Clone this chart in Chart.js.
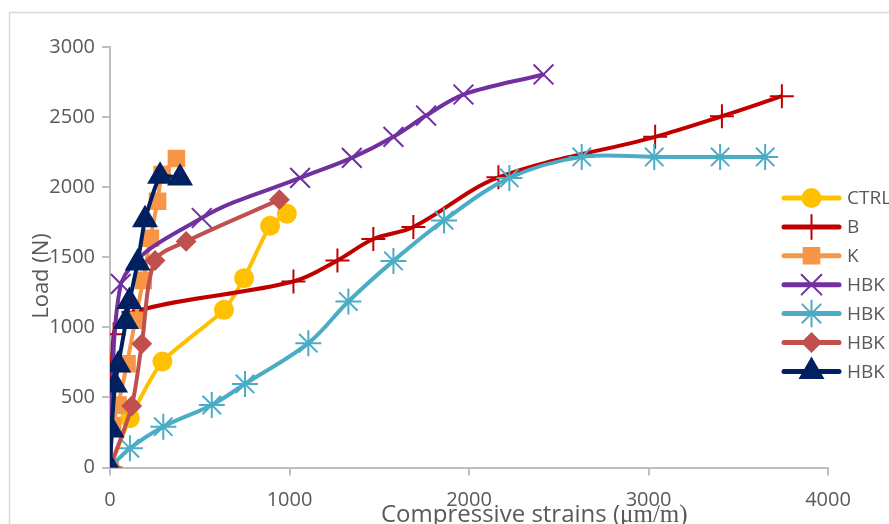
<!DOCTYPE html>
<html><head><meta charset="utf-8">
<script src="https://cdn.jsdelivr.net/npm/chart.js@4.4.0/dist/chart.umd.min.js"></script>
<style>html,body{margin:0;padding:0;background:#fff;overflow:hidden}#wrap{position:relative;width:889px;height:524px}</style>
</head><body><div id="wrap"><canvas id="c" width="889" height="524"></canvas></div>
<script>
// ---- data ----
const seriesNames = ["CTRL", "B", "K", "HBK", "HBK", "HBK", "HBK"];
const xTicks = [0, 1000, 2000, 3000, 4000];
const yTicks = [0, 500, 1000, 1500, 2000, 2500, 3000];
const xTitle = "Compressive strains (";
const xTitleUnit = "\u03bcm/m)";
const yTitle = "Load (N)";

const ctrlStrain = [0, 111, 292, 635, 747, 892, 985];
const ctrlLoad   = [0, 351, 756, 1125, 1351, 1725, 1811];

const bStrain = [0, 20, 130, 1022, 1267, 1467, 1690, 2164, 3037, 3409, 3743];
const bLoad   = [0, 950, 1110, 1327, 1477, 1630, 1716, 2070, 2359, 2506, 2649];

const kStrain = [0, 15, 45, 95, 140, 185, 225, 265, 290, 370];
const kLoad   = [0, 300, 445, 740, 1050, 1335, 1635, 1900, 2090, 2205];

const hbk1Strain = [0, 60, 511, 1059, 1347, 1579, 1761, 1969, 2415];
const hbk1Load   = [0, 1310, 1780, 2066, 2209, 2359, 2511, 2661, 2804];

const hbk2Strain = [0, 111, 297, 567, 752, 1105, 1328, 1579, 1861, 2225, 2628, 3032, 3399, 3650];
const hbk2Load   = [0, 137, 291, 446, 596, 887, 1184, 1474, 1763, 2066, 2216, 2216, 2216, 2216];

const hbk3Strain = [0, 121, 177, 251, 424, 944];
const hbk3Load   = [0, 439, 882, 1477, 1613, 1911];

const hbk4Strain = [0, 9, 28, 46, 89, 108, 154, 195, 279, 390];
const hbk4Load   = [0, 268, 589, 732, 1041, 1184, 1459, 1768, 2077, 2066];

// ---- styling ----
const colors = ["#FFC000", "#C00000", "#F79646", "#7030A0", "#4BACC6", "#C0504D", "#002060"];
const styles = ["circle", "cross", "rect", "crossRot", "star", "rectRot", "triangle"];
const radii  = [9, 12, 11, 14, 13, 9, 13];
const tensions = [0.2, 0.35, 0.2, 0.35, 0.35, 0.3, 0.15];

const xs = [ctrlStrain, bStrain, kStrain, hbk1Strain, hbk2Strain, hbk3Strain, hbk4Strain];
const ys = [ctrlLoad, bLoad, kLoad, hbk1Load, hbk2Load, hbk3Load, hbk4Load];

const pts = (a, b) => a.map((v, i) => ({x: v, y: b[i]}));

const datasets = seriesNames.map((n, i) => ({
  label: n,
  data: pts(xs[i], ys[i]),
  borderColor: colors[i],
  backgroundColor: colors[i],
  pointBackgroundColor: colors[i],
  pointBorderColor: colors[i],
  pointStyle: styles[i],
  pointRadius: radii[i],
  pointHoverRadius: radii[i],
  pointBorderWidth: 2,
  borderWidth: 4,
  tension: tensions[i],
  fill: false,
  order: 6 - i
}));

Chart.defaults.font.family = '"Open Sans", sans-serif';
Chart.defaults.font.size = 20;
Chart.defaults.color = '#595959';

const extras = {
  id: 'extras',
  beforeDraw(chart) {
    const c = chart.ctx;
    c.save();
    c.fillStyle = '#fff';
    c.fillRect(0, 0, chart.width, chart.height);
    c.strokeStyle = '#d9d9d9';
    c.lineWidth = 1.5;
    c.strokeRect(9.5, 12.5, 1400, 1400);
    c.restore();
  },
  afterDraw(chart) {
    const c = chart.ctx;
    // y title
    c.save();
    c.fillStyle = '#595959';
    c.font = '22px "Open Sans"';
    c.translate(42, 276);
    c.rotate(-Math.PI / 2);
    c.textAlign = 'center';
    c.textBaseline = 'middle';
    c.fillText(yTitle, 0, 0);
    c.restore();
    // x title
    c.save();
    c.fillStyle = '#595959';
    c.textBaseline = 'alphabetic';
    c.textAlign = 'left';
    c.font = '24px "Open Sans"';
    c.fillText(xTitle, 381, 522);
    const w = c.measureText(xTitle).width;
    c.font = '25px "Liberation Serif"';
    c.fillText(xTitleUnit, 381 + w, 522);
    c.restore();
    // legend
    const ly0 = 198, ldy = 28.9;
    chart.data.datasets.forEach((ds, i) => {
      const y = ly0 + i * ldy;
      c.save();
      c.strokeStyle = ds.borderColor;
      c.lineWidth = 5;
      c.lineCap = 'round';
      c.beginPath();
      c.moveTo(784, y);
      c.lineTo(839, y);
      c.stroke();
      c.fillStyle = ds.borderColor;
      c.strokeStyle = ds.borderColor;
      c.lineWidth = 2;
      Chart.helpers.drawPoint(c, {pointStyle: ds.pointStyle, radius: ds.pointRadius, rotation: 0, borderWidth: 2}, 811.5, y);
      c.fillStyle = '#595959';
      c.font = '19px "Open Sans"';
      c.textAlign = 'left';
      c.textBaseline = 'middle';
      c.fillText(ds.label, 847, y + 1);
      c.restore();
    });
  }
};

new Chart(document.getElementById('c'), {
  type: 'line',
  data: {datasets},
  options: {
    responsive: false,
    animation: false,
    events: [],
    layout: {padding: {left: 0, right: 61, top: 47, bottom: 0}},
    plugins: {legend: {display: false}, tooltip: {enabled: false}},
    scales: {
      x: {
        type: 'linear', min: xTicks[0], max: xTicks[xTicks.length - 1],
        afterBuildTicks(s) { s.ticks = xTicks.map(v => ({value: v})); },
        ticks: {padding: 13, maxRotation: 0, color: '#595959', font: {size: 20}, callback: v => String(v)},
        grid: {display: true, drawOnChartArea: false, drawTicks: true, tickLength: 8, color: '#bfbfbf', lineWidth: 2},
        border: {display: true, color: '#bfbfbf', width: 2},
        afterFit(s) { s.height = 56.5; }
      },
      y: {
        type: 'linear', min: yTicks[0], max: yTicks[yTicks.length - 1],
        afterBuildTicks(s) { s.ticks = yTicks.map(v => ({value: v})); },
        ticks: {padding: 7, color: '#595959', font: {size: 20}, callback: v => String(v)},
        grid: {display: true, drawOnChartArea: false, drawTicks: true, tickLength: 8, color: '#bfbfbf', lineWidth: 2},
        border: {display: true, color: '#bfbfbf', width: 2},
        afterFit(s) { s.width = 110; }
      }
    }
  },
  plugins: [extras]
});
</script>
</body></html>
